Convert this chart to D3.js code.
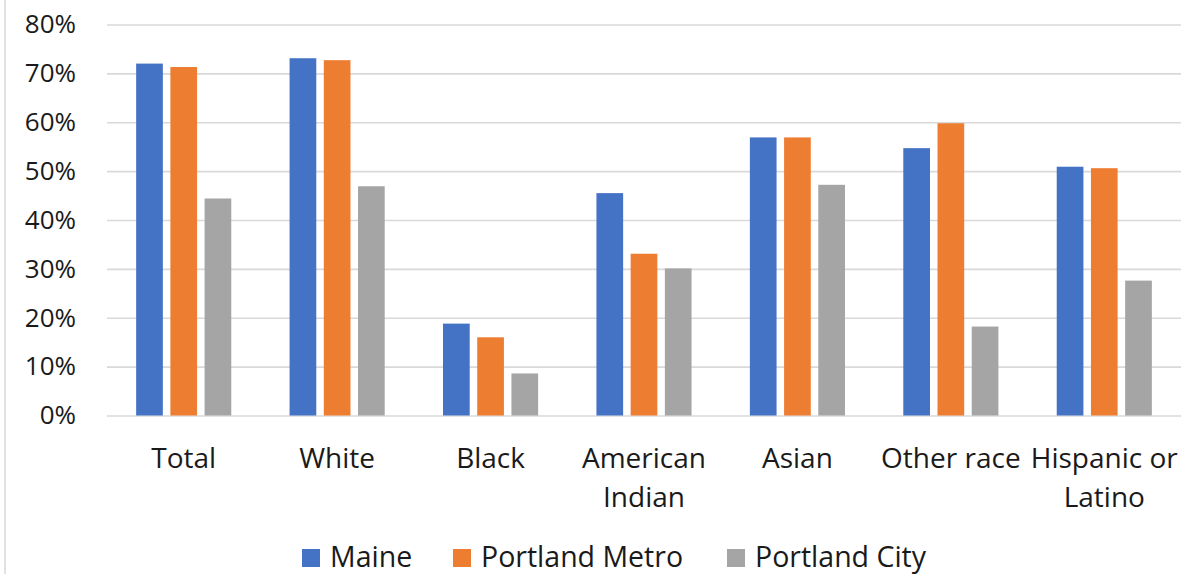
<!DOCTYPE html>
<html><head><meta charset="utf-8">
<script src="https://cdn.jsdelivr.net/npm/d3@7"></script>
<style>
html,body{margin:0;padding:0;background:#fff;}
svg{display:block;font-family:"Open Sans","Noto Sans",sans-serif;}
</style></head>
<body>
<svg id="chart" width="1204" height="574"></svg>
<script>
const categories = [["Total"],["White"],["Black"],["American","Indian"],["Asian"],["Other race"],["Hispanic or","Latino"]];
const seriesNames = ["Maine","Portland Metro","Portland City"];
const seriesColors = ["#4472c4","#ed7d31","#a5a5a5"];
const maine = [72.0, 73.1, 18.8, 45.5, 56.9, 54.7, 50.9];
const metro = [71.3, 72.7, 16.0, 33.1, 56.9, 59.8, 50.6];
const city  = [44.4, 46.9, 8.6, 30.1, 47.2, 18.2, 27.6];
const yTicks = [0,10,20,30,40,50,60,70,80];

(function(){
const series = [maine, metro, city];
const svg = d3.select("#chart");
const W = 1204, H = 574;
const pLeft = 107, pRight = 1181, pTop = 24.5, pBottom = 415.5;

svg.append("line").attr("x1",5).attr("x2",5).attr("y1",0).attr("y2",H)
  .attr("stroke","#d9d9d9").attr("stroke-width",1.5);

const x0 = d3.scaleBand().domain(d3.range(categories.length)).range([pLeft,pRight]).padding(0);
const y = d3.scaleLinear().domain([0,80]).range([pBottom,pTop]);

const bw = x0.bandwidth();
const barW = bw*0.174, step = bw*0.223;
const groupW = step*2 + barW;
const x1 = d3.scaleBand().domain(d3.range(3)).range([(bw-groupW)/2,(bw-groupW)/2+step*3]).paddingInner(0);

const yAxis = d3.axisLeft(y).tickValues(yTicks).tickSize(-(pRight-pLeft)).tickFormat(d=>d+"%").tickPadding(31);
const ga = svg.append("g").attr("transform",`translate(${pLeft},0)`).call(yAxis);
ga.select(".domain").remove();
ga.selectAll(".tick line").attr("stroke","#d9d9d9").attr("stroke-width",1.6);
ga.selectAll(".tick text").attr("font-size",26).attr("fill","#1a1a1a").attr("font-family","'Open Sans',sans-serif");

const g = svg.append("g");
series.forEach((vals,si)=>{
  g.selectAll(null).data(vals).enter().append("rect")
   .attr("x",(d,i)=>x0(i)+x1(si))
   .attr("width",barW)
   .attr("y",d=>y(d))
   .attr("height",d=>y(0)-y(d))
   .attr("fill",seriesColors[si]);
});

const xl = svg.append("g");
categories.forEach((lines,i)=>{
  const t = xl.append("text").attr("text-anchor","middle")
    .attr("font-size",28).attr("fill","#1a1a1a");
  lines.forEach((ln,k)=>{
    t.append("tspan").attr("x",x0(i)+bw/2).attr("y",468+k*39).text(ln);
  });
});

const legX = [302, 453, 727];
const lg = svg.append("g");
seriesNames.forEach((n,i)=>{
  lg.append("rect").attr("x",legX[i]).attr("y",549).attr("width",18).attr("height",18).attr("fill",seriesColors[i]);
  lg.append("text").attr("x",legX[i]+28).attr("y",567).attr("font-size",28.5).attr("fill","#1a1a1a").text(n);
});
})();
</script>
</body></html>
